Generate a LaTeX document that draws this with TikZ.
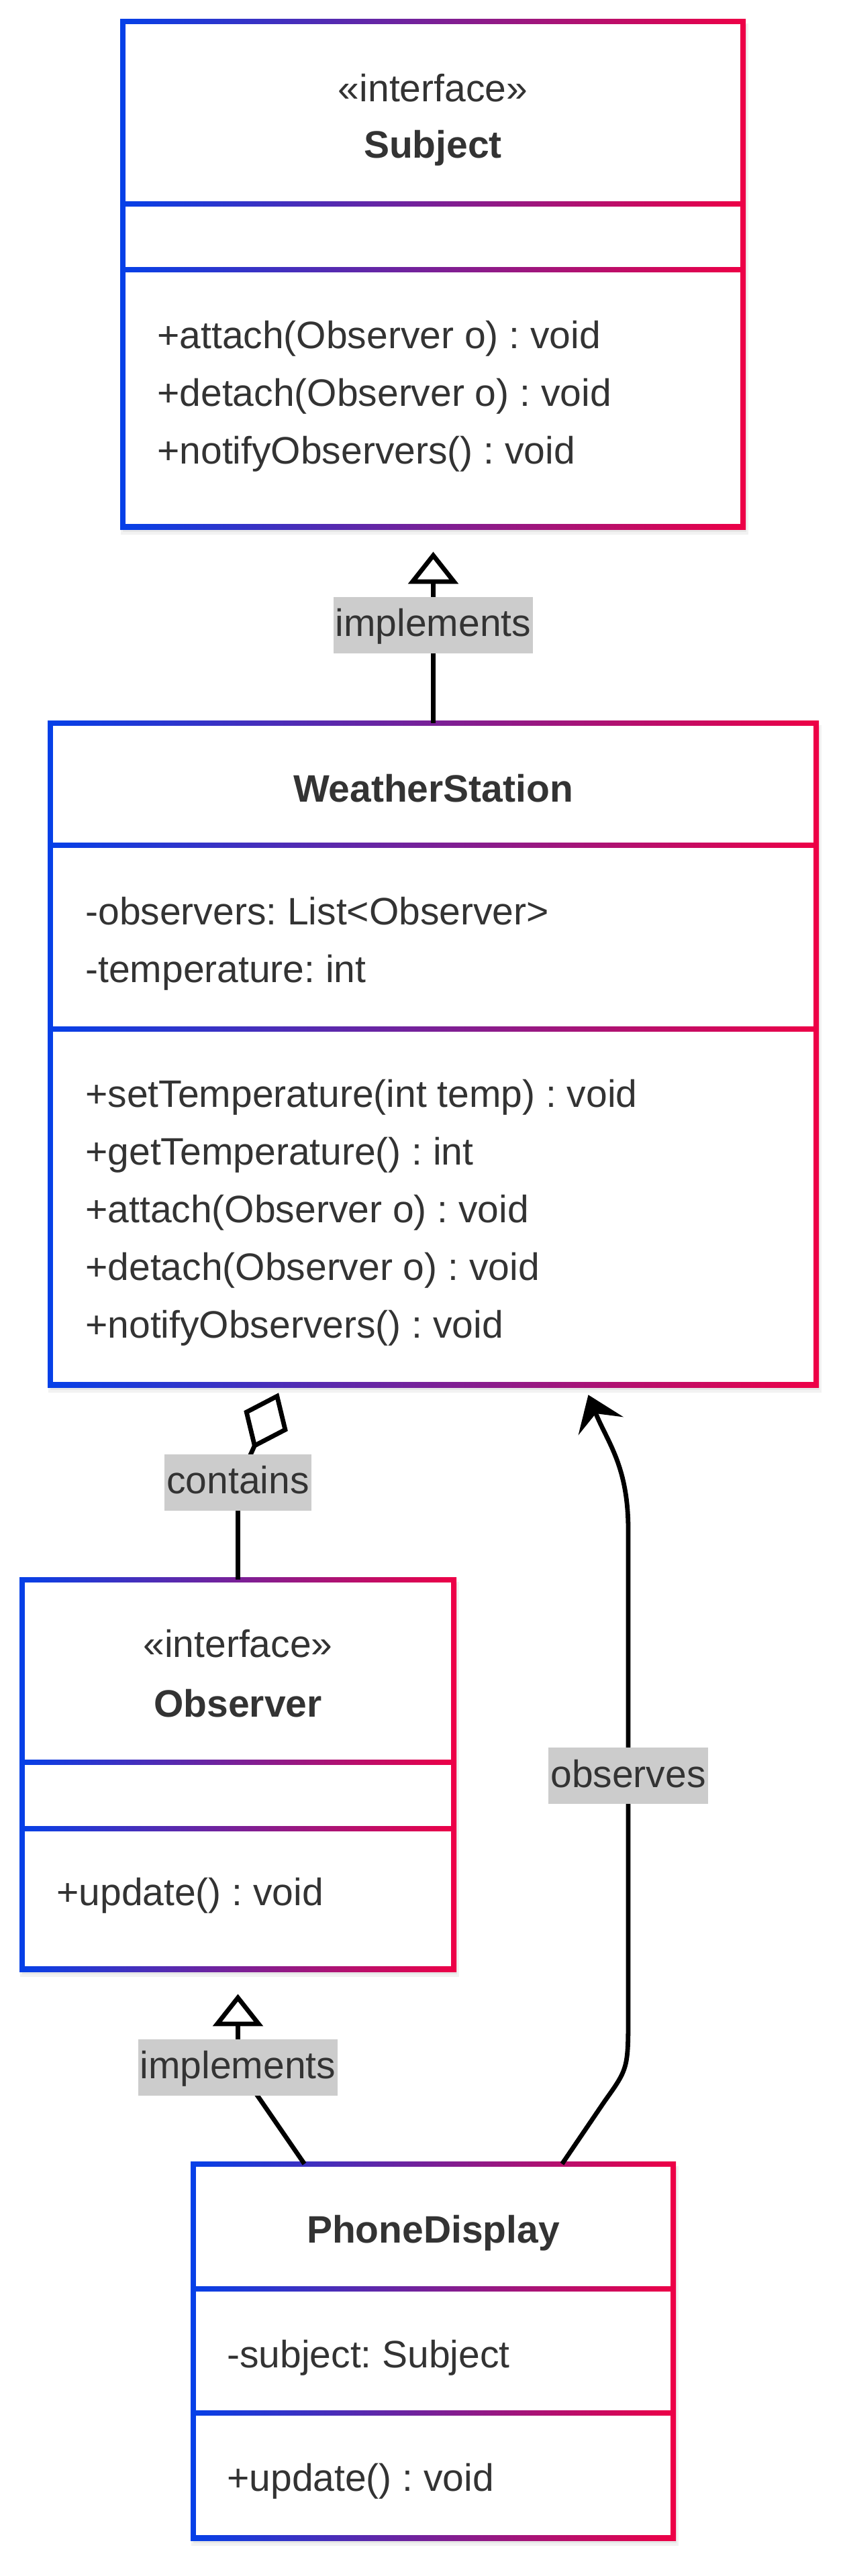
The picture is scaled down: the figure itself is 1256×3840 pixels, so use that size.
\documentclass[tikz,border=0pt]{standalone}
\usepackage{fontspec}
\setmainfont{Liberation Sans}
\usepackage{tikz}
\usetikzlibrary{arrows.meta}
\usetikzlibrary{fit,positioning}
\usepackage{xcolor}
\definecolor{umlblue}{HTML}{0540E8}
\definecolor{umlred}{HTML}{EE0046}
\definecolor{txtgray}{HTML}{333333}
\definecolor{lblgray}{HTML}{CCCCCC}
\frenchspacing

\begin{document}
\begin{tikzpicture}[x=0.5pt,y=-0.5pt]
  \tikzset{classbox/.style = {inner sep=0pt, draw=none}}
  \tikzset{member/.style = {anchor=base west, inner sep=0pt, text=txtgray, font=\fontsize{28.5pt}{34pt}\selectfont}}
  \tikzset{stereo/.style = {member, anchor=base}}
  \tikzset{title/.style = {member, anchor=base, font=\fontsize{28.5pt}{34pt}\selectfont\bfseries}}
  \tikzset{lbl/.style = {fill=lblgray, text=txtgray, inner xsep=1.5pt, inner ysep=6pt, text height=23.5pt, text depth=6.5pt, font=\fontsize{28.5pt}{34pt}\selectfont}}
  \tikzset{link/.style = {draw=black, line width=3.4pt}}
  \tikzset{%
  tipR/.tip={Triangle[fill=white, length=24pt, width=37pt]},
  tipD/.tip={Diamond[fill=white, length=46pt, width=36pt]},
  tipS/.tip={Stealth[length=25pt, width=36pt, inset=10pt]},
}

  \useasboundingbox (0,0) rectangle (1256,3840);

  % class boxes: name / left / top / right / bottom / first divider / second divider
  \foreach \n/\xa/\ya/\xb/\yb/\da/\db in {SJ/183/32/1107/785/304/402, WS/75/1078/1216/2064/1260/1534, OB/33/2355/676/2935/2627/2726, PD/288/3226/1003/3783/3412/3597}
  {
    \fill[black, opacity=0.05] (\xa-3,\ya+3) rectangle (\xb+8,\yb+12);
    \fill[black, opacity=0.05] (\xa,\ya+5) rectangle (\xb+5,\yb+8);
    \shade[left color=umlblue, right color=umlred] (\xa-4,\ya-4) rectangle (\xb+4,\yb+4);
    \foreach \ta/\tb in {\ya/\da,\da/\db,\db/\yb}
      \fill[white] (\xa+4,\ta+4) rectangle (\xb-4,\tb-4);
    \node[classbox, fit={(\xa,\ya) (\xb,\yb)}] (\n) {};
  }

	\node[stereo] (SJs) at (645,151) {«interface»};
	\node[title] (SJt) at (645,235) {Subject};
    \foreach \t [count=\i from 0] in {+attach(Observer o) : void,+detach(Observer o) : void,+notifyObservers() : void}
    \node[member] (SJm\i) at (234,519+86*\i) {\t};

	\node[title] (WSt) at (645.5,1195) {WeatherStation};
    \foreach \t [count=\i from 0] in {-observers: List<Observer>,-temperature: int}
    \node[member] (WSa\i) at (127,1378+86*\i) {\t};
    \foreach \t [count=\i from 0] in {+setTemperature(int temp) : void,+getTemperature() : int,+attach(Observer o) : void,+detach(Observer o) : void,+notifyObservers() : void}
    \node[member] (WSm\i) at (127,1650+86*\i) {\t};

	\node[stereo] (OBs) at (354.5,2470) {«interface»};
	\node[title] (OBt) at (354.5,2559) {Observer};
	\node[member] (OBm) at (84,2840.5) {+update() : void};

	\node[title] (PDt) at (645.5,3343) {PhoneDisplay};
	\node[member] (PDa) at (338,3529) {-subject: Subject};
	\node[member] (PDm) at (338,3713) {+update() : void};

    \path[link, -tipR, shorten >=18.5pt] (WS.north) -- (WS.north |- SJ.south) node[lbl, midway] (L1) {implements};
    \path[link, -tipD, shorten >=6.5pt] (OB.north) -- ++(0,-145) node[lbl] (L2) {contains} -- ([xshift=-112.5pt]WS.south);
    \path[link, -tipR, shorten >=18.5pt] ([xshift=-96pt]PD.north) -- ++(-99,-144) node[lbl] (L3) {implements} -- (OB.south);
    \path[link, -tipS, shorten >=8pt] ([xshift=96pt]PD.north) -- (901,3132) .. controls (936,3083) .. (936,3000) -- (936,2280) node[lbl, pos=0.49] (L4) {observes} .. controls (936,2185) and (905,2150) .. ([xshift=112.5pt]WS.south);

\end{tikzpicture}
\end{document}
